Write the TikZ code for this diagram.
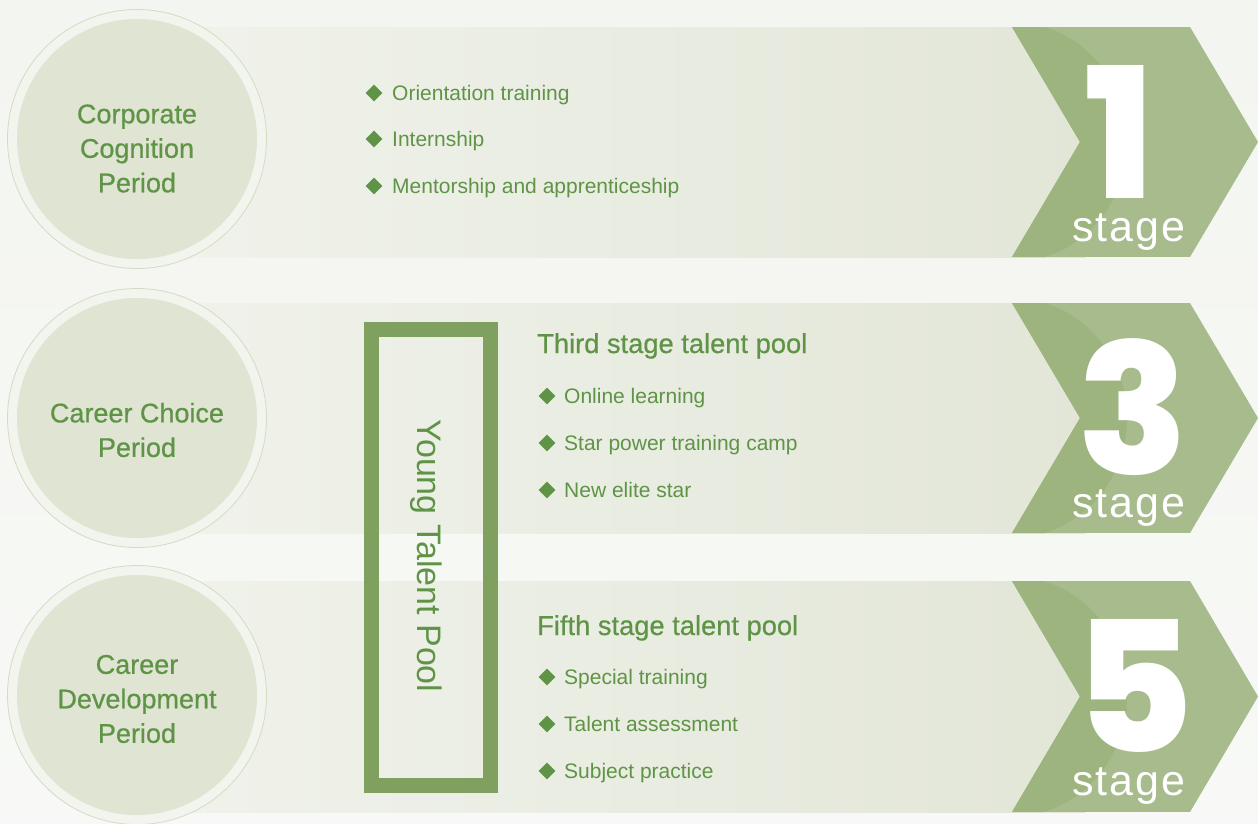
\documentclass[tikz,border=0pt]{standalone}
\usepackage{fontspec}
\setmainfont{Liberation Sans}
\newfontfamily\medfont{Liberation Sans}[FakeBold=0.6]
\IfFontExistsTF{Poppins ExtraBold}{\newfontfamily\numfont{Poppins ExtraBold}}{%
  \IfFontExistsTF{Poppins Bold}{\newfontfamily\numfont{Poppins Bold}}{%
    \newfontfamily\numfont{Liberation Sans Bold}[FakeBold=2]}}
\newfontfamily\stagefont{Liberation Sans}[LetterSpace=5]
\usetikzlibrary{shapes.geometric}
\definecolor{bg}{HTML}{F3F5F0}
\definecolor{bandL}{HTML}{F1F3EC}
\definecolor{bandR}{HTML}{E2E6D7}
\definecolor{ringfill}{HTML}{F2F4EE}
\definecolor{ringline}{HTML}{D5DAC4}
\definecolor{innerc}{HTML}{DFE4D3}
\definecolor{tgreen}{HTML}{5F9447}
\definecolor{boxgreen}{HTML}{80A060}
\definecolor{chev}{HTML}{A7BB8C}
\definecolor{chevdark}{HTML}{9DB47F}
\tikzset{
  outerring/.style={circle, minimum size=259pt, inner sep=0, fill=ringfill, draw=ringline, line width=0.8pt},
  innerdisc/.style={circle, minimum size=240pt, inner sep=0, fill=innerc},
  circtext/.style={align=center, text=tgreen, font=\medfont\fontsize{27}{34.5}\selectfont, inner sep=0},
  itemtext/.style={anchor=base west, text=tgreen, font=\fontsize{21}{25}\selectfont, inner sep=0},
  headtext/.style={anchor=base west, text=tgreen, font=\medfont\fontsize{27.3}{32}\selectfont, inner sep=0},
  bullet/.style={diamond, fill=tgreen, minimum size=17pt, inner sep=0},
  numtext/.style={anchor=base, text=white, font=\numfont\fontsize{182}{182}\selectfont, inner sep=0, text depth=0pt},
  stagetext/.style={anchor=base, text=white, font=\stagefont\fontsize{43}{45}\selectfont, inner sep=0, text height=30pt},
}
\newcommand\stageband[5]{%
  \pgfmathsetmacro\bm{(#1+#2)/2}%
  \pgfmathsetmacro\nb{#1+171}%
  \pgfmathsetmacro\sb{#1+214}%
  \shade[left color=bandL, right color=bandR] (137,#1) rectangle (1085,#2);
  \begin{scope}
    \clip (1012,#1) -- (1190,#1) -- (1258,\bm) -- (1190,#2) -- (1012,#2) -- (1080,\bm) -- cycle;
    \fill[chev] (1000,#1) rectangle (1258,#2);
    \fill[chevdark] (1012,\bm) ellipse [x radius=115, y radius=120];
  \end{scope}
  \node[numtext] (num#4) at (#5,\nb) {#3};
  \node[stagetext] (stage#4) at (1129,\sb) {stage};
}
\begin{document}
\begin{tikzpicture}[x=1pt,y=-1pt]
\useasboundingbox (0,0) rectangle (1258,823);
\shade[top color=bg, bottom color=bg!60!white] (0,0) rectangle (1258,823);

\stageband{27}{257}{1}{a}{1120}
\stageband{303}{533}{3}{b}{1133}
\stageband{581}{812}{5}{c}{1134}

% circles
\node[outerring] (ring1) at (137,139) {};
\node[innerdisc] (disc1) at (137,139) {};
\node[circtext] (t1) at (137,148.5) {Corporate\\Cognition\\Period};
\node[outerring] (ring2) at (137,418) {};
\node[innerdisc] (disc2) at (137,418) {};
\node[circtext] (t2) at (137,430) {Career Choice\\Period};
\node[outerring] (ring3) at (137,695) {};
\node[innerdisc] (disc3) at (137,695) {};
\node[circtext] (t3) at (137,699) {Career\\Development\\Period};

% stage 1 items
\node[bullet] (d11) at (374,93) {};
\node[itemtext] (i11) at (392,100.5) {Orientation training};
\node[bullet] (d12) at (374,139) {};
\node[itemtext] (i12) at (392,146.5) {Internship};
\node[bullet] (d13) at (374,186) {};
\node[itemtext] (i13) at (392,193.5) {Mentorship and apprenticeship};

% young talent pool box
\draw[boxgreen, line width=15pt] (371.5,329.5) rectangle (490.5,785.5);
\node[rotate=-90, anchor=base, text=tgreen, font=\fontsize{34}{36}\selectfont, inner sep=0] (ytp) at (417,556) {Young Talent Pool};

% stage 3
\node[headtext] (h2) at (537,353) {Third stage talent pool};
\node[bullet] (d21) at (547,396) {};
\node[itemtext] (i21) at (564,403.5) {Online learning};
\node[bullet] (d22) at (547,443) {};
\node[itemtext] (i22) at (564,450.5) {Star power training camp};
\node[bullet] (d23) at (547,490) {};
\node[itemtext] (i23) at (564,497.5) {New elite star};

% stage 5
\node[headtext] (h3) at (537,635) {Fifth stage talent pool};
\node[bullet] (d31) at (547,677) {};
\node[itemtext] (i31) at (564,684.5) {Special training};
\node[bullet] (d32) at (547,724) {};
\node[itemtext] (i32) at (564,731.5) {Talent assessment};
\node[bullet] (d33) at (547,771) {};
\node[itemtext] (i33) at (564,778.5) {Subject practice};
\end{tikzpicture}
\end{document}
